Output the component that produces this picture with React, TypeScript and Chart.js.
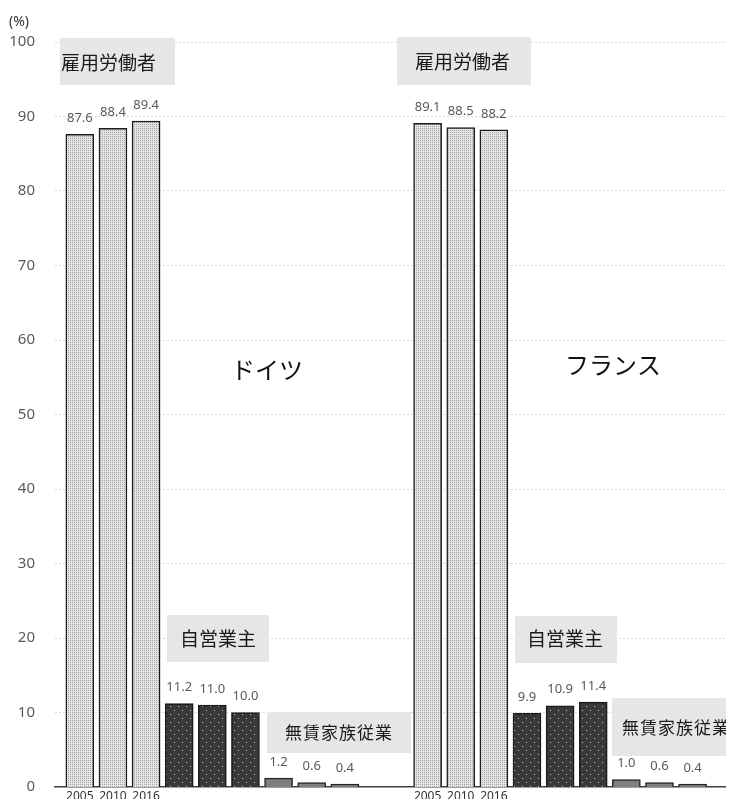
import React, { useEffect, useRef } from 'react';
import { Chart, registerables } from 'chart.js';

Chart.register(...registerables);

// ---- data ----
const years = ['2005', '2010', '2016'];
const countries = ['ドイツ', 'フランス'];
const seriesNames = ['雇用労働者', '自営業主', '無賃家族従業者'];
const deEmployees = [87.6, 88.4, 89.4];
const deSelfEmployed = [11.2, 11.0, 10.0];
const deFamilyWorkers = [1.2, 0.6, 0.4];
const frEmployees = [89.1, 88.5, 88.2];
const frSelfEmployed = [9.9, 10.9, 11.4];
const frFamilyWorkers = [1.0, 0.6, 0.4];
const yMin = 0;
const yMax = 100;
const yStep = 10;

// ---- slot layout (category axis with spacer slots) ----
const leadSlots = 1;
const slotsPerBar = 2;
const gapSlots = 5;
const totalSlots = 41;
const barsPerCountry = 9;
const countryStart = [leadSlots, leadSlots + (barsPerCountry - 1) * slotsPerBar + gapSlots];

const countrySeries = [
  [deEmployees, deSelfEmployed, deFamilyWorkers],
  [frEmployees, frSelfEmployed, frFamilyWorkers],
];

function buildLabels(): string[] {
  const labels: string[] = new Array(totalSlots).fill('');
  countryStart.forEach((start) => {
    years.forEach((y, j) => {
      labels[start + j * slotsPerBar] = y;
    });
  });
  return labels;
}

function buildSeries(seriesIndex: number): (number | null)[] {
  const data: (number | null)[] = new Array(totalSlots).fill(null);
  countryStart.forEach((start, c) => {
    countrySeries[c][seriesIndex].forEach((v, j) => {
      data[start + (seriesIndex * years.length + j) * slotsPerBar] = v;
    });
  });
  return data;
}

function makeLightPattern(ctx: CanvasRenderingContext2D) {
  const c = document.createElement('canvas');
  c.width = 2;
  c.height = 2;
  const g = c.getContext('2d')!;
  g.fillStyle = '#e4e4e4';
  g.fillRect(0, 0, 2, 2);
  g.fillStyle = '#a4a4a4';
  g.fillRect(0, 0, 1, 1);
  return ctx.createPattern(c, 'repeat')!;
}

function makeDarkPattern(ctx: CanvasRenderingContext2D) {
  const c = document.createElement('canvas');
  c.width = 8;
  c.height = 8;
  const g = c.getContext('2d')!;
  g.fillStyle = '#383838';
  g.fillRect(0, 0, 8, 8);
  g.fillStyle = '#c8c8c8';
  g.fillRect(2, 2, 1, 1);
  g.fillRect(6, 6, 1, 1);
  return ctx.createPattern(c, 'repeat')!;
}

const JP = '"Noto Sans CJK JP", "Noto Sans", sans-serif';
const NUM = '"Noto Sans", "Liberation Sans", sans-serif';

const valueLabelPlugin = {
  id: 'valueLabels',
  afterDatasetsDraw(chart: any) {
    const ctx = chart.ctx;
    ctx.save();
    ctx.font = `13px ${NUM}`;
    ctx.fillStyle = '#595959';
    ctx.textAlign = 'center';
    ctx.textBaseline = 'middle';
    chart.data.datasets.forEach((ds: any, i: number) => {
      const meta = chart.getDatasetMeta(i);
      meta.data.forEach((el: any, k: number) => {
        const v = ds.data[k];
        if (v === null || v === undefined) return;
        ctx.fillText(v.toFixed(1), el.x, el.y - 16);
      });
    });
    ctx.restore();
  },
};

type Box = { text: string; x0: number; y0: number; x1: number; y1: number; tx: number; ty: number; size: number };

const boxes: Box[] = [
  { text: seriesNames[0], x0: 60, y0: 38, x1: 175, y1: 85, tx: 61, ty: 63, size: 19 },
  { text: seriesNames[0], x0: 397, y0: 37, x1: 531, y1: 85, tx: 415, ty: 62, size: 19 },
  { text: seriesNames[1], x0: 167, y0: 615, x1: 269, y1: 662, tx: 180, ty: 639, size: 19 },
  { text: seriesNames[1], x0: 515, y0: 616, x1: 617, y1: 663, tx: 527, ty: 639, size: 19 },
  { text: '無賃家族従業', x0: 267, y0: 712, x1: 411, y1: 753, tx: 285, ty: 733, size: 17 },
  { text: seriesNames[2], x0: 612, y0: 698, x1: 780, y1: 756, tx: 622, ty: 728, size: 17 },
];

const annotationPlugin = {
  id: 'annotations',
  afterDraw(chart: any) {
    const ctx = chart.ctx;
    ctx.save();
    boxes.forEach((b) => {
      ctx.fillStyle = '#e6e6e6';
      ctx.fillRect(b.x0, b.y0, b.x1 - b.x0, b.y1 - b.y0);
      ctx.fillStyle = '#1a1a1a';
      ctx.font = `${b.size}px ${JP}`;
      ctx.textAlign = 'left';
      ctx.textBaseline = 'middle';
      (ctx as any).letterSpacing = b.size === 17 ? '1px' : '0px';
      ctx.fillText(b.text, b.tx, b.ty);
    });
    (ctx as any).letterSpacing = '0px';
    ctx.font = `24px ${JP}`;
    ctx.fillStyle = '#111';
    ctx.textBaseline = 'middle';
    ctx.textAlign = 'left';
    ctx.fillText(countries[0], 231, 370);
    ctx.fillText(countries[1], 565, 365);
    ctx.font = `14px ${NUM}`;
    ctx.fillStyle = '#333';
    ctx.fillText('(%)', 9, 22);
    ctx.restore();
  },
};

export default function App() {
  const ref = useRef<HTMLCanvasElement>(null);
  useEffect(() => {
    const canvas = ref.current!;
    const ctx = canvas.getContext('2d')!;
    const light = makeLightPattern(ctx);
    const dark = makeDarkPattern(ctx);
    const chart = new Chart(canvas, {
      type: 'bar',
      data: {
        labels: buildLabels(),
        datasets: [
          { label: seriesNames[0], data: buildSeries(0), backgroundColor: light, borderColor: '#1a1a1a', borderWidth: 1.5, barThickness: 28, grouped: false } as any,
          { label: seriesNames[1], data: buildSeries(1), backgroundColor: dark, borderColor: '#1a1a1a', borderWidth: 1.5, barThickness: 28, grouped: false } as any,
          { label: seriesNames[2], data: buildSeries(2), backgroundColor: '#7f7f7f', borderColor: '#262626', borderWidth: 1.5, barThickness: 28, grouped: false } as any,
        ],
      },
      options: {
        responsive: false,
        maintainAspectRatio: false,
        animation: false,
        devicePixelRatio: 1,
        layout: { padding: { top: 42, left: 0, right: 0, bottom: 0 } },
        plugins: { legend: { display: false }, tooltip: { enabled: false } },
        scales: {
          x: {
            type: 'category',
            offset: true,
            grid: { display: false, drawTicks: false },
            border: { display: true, color: '#404040', width: 1.5 },
            ticks: { autoSkip: false, maxRotation: 0, minRotation: 0, padding: 2, color: '#333', font: { size: 12, family: NUM } },
            afterFit: (s: any) => { s.height = 20; s.paddingLeft = 0; s.paddingRight = 0; },
          },
          y: {
            min: yMin,
            max: yMax,
            ticks: { stepSize: yStep, padding: 20, color: '#595959', font: { size: 15, family: NUM } },
            grid: { color: '#d9d9d9', drawTicks: false, lineWidth: (c: any) => (c.tick && c.tick.value === 0 ? 0 : 1) },
            border: { display: false, dash: [2, 2] },
            afterFit: (s: any) => { s.width = 55; s.paddingTop = 0; s.paddingBottom = 0; },
          },
        },
      } as any,
      plugins: [valueLabelPlugin, annotationPlugin],
    });
    return () => chart.destroy();
  }, []);
  return (
    <div style={{ margin: -8, width: 734, height: 807, background: '#fff' }}>
      <canvas ref={ref} width={734} height={807} style={{ display: 'block', width: 734, height: 807 }} />
    </div>
  );
}
